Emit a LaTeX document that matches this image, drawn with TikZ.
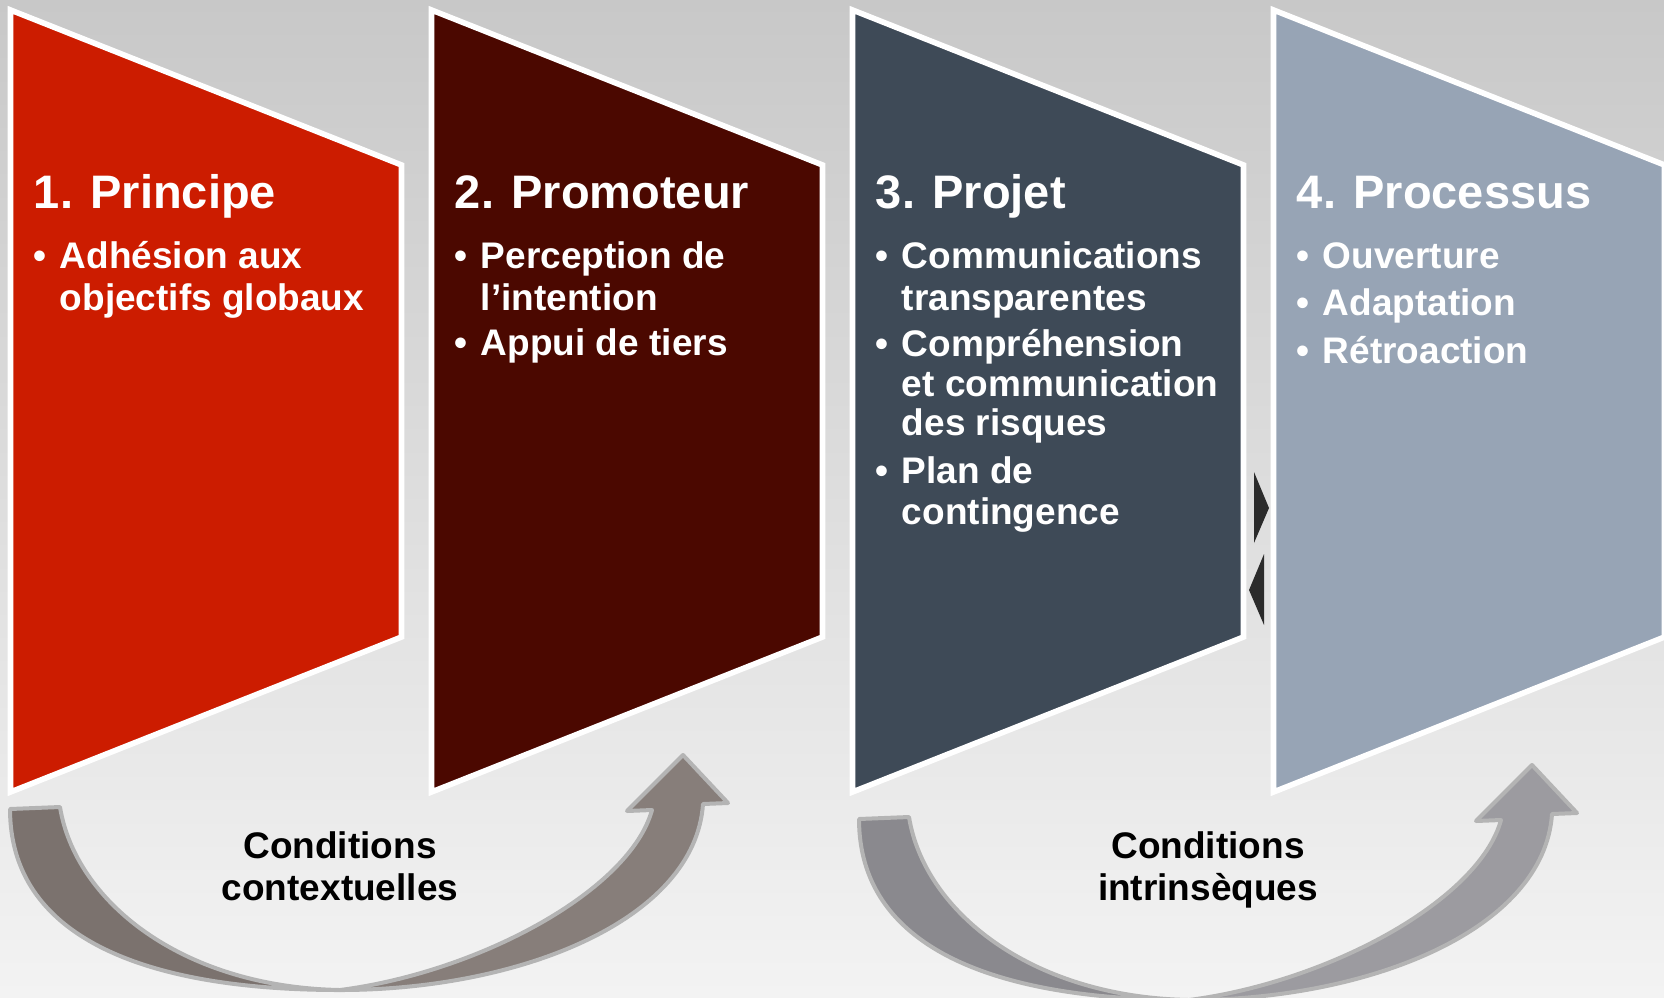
\documentclass[tikz,border=0pt]{standalone}
\usepackage{fontspec}
\setmainfont{Liberation Sans}
\definecolor{pone}{RGB}{204,28,0}
\definecolor{ptwo}{RGB}{75,8,0}
\definecolor{pthree}{RGB}{62,74,87}
\definecolor{pfour}{RGB}{151,164,181}
\definecolor{bgtop}{RGB}{200,200,200}
\definecolor{bgbot}{RGB}{243,243,243}
\definecolor{aoneL}{RGB}{123,114,110}
\definecolor{aoneR}{RGB}{135,126,122}
\definecolor{atwoL}{RGB}{138,137,142}
\definecolor{atwoR}{RGB}{156,155,160}
\definecolor{arrline}{RGB}{180,180,180}
\definecolor{trig}{RGB}{43,43,43}
\begin{document}
\begin{tikzpicture}[x=0.5pt,y=-0.5pt,
  panel/.style={draw=white,line width=2.8pt,line join=miter},
  arrowpart/.style={draw=arrline,line width=2pt,line join=round},
  ttl/.style={anchor=base west,inner sep=0pt,text=white,font=\bfseries\fontsize{23.5}{28}\selectfont},
  itm/.style={anchor=base west,inner sep=0pt,text=white,font=\bfseries\fontsize{18.5}{22}\selectfont},
  cond/.style={anchor=base,inner sep=0pt,text=black,font=\bfseries\fontsize{18.5}{22}\selectfont}]
\useasboundingbox (0,0) rectangle (1664,997);
\clip (0,0) rectangle (1664,997);
\shade[top color=bgtop,bottom color=bgbot] (0,0) rectangle (1664,997);

% curved arrows
\foreach \dx/\dy/\cl/\cr in {0/0/aoneL/aoneR, 849/10/atwoL/atwoR}{
  \begin{scope}[shift={(\dx,\dy)}]
    \path[arrowpart,fill=\cr] (340,990) .. controls (520,990) and (695,920) .. (703,804)
      -- (728,803) -- (683,755) -- (627,811) -- (652,810)
      .. controls (630,890) and (480,972) .. (340,990) -- cycle;
    \path[arrowpart,fill=\cl] (10,809) .. controls (10,935) and (140,990) .. (340,990)
      .. controls (180,987) and (75,900) .. (60,807) -- cycle;
  \end{scope}
}

% panels
\path[panel,fill=pone]   (10.5,10) -- (401.5,165) -- (401.5,637) -- (10.5,792) -- cycle;
\path[panel,fill=ptwo]   (431.5,10) -- (822.5,165) -- (822.5,637) -- (431.5,792) -- cycle;
\path[panel,fill=pthree] (852.5,10) -- (1243.5,165) -- (1243.5,637) -- (852.5,792) -- cycle;
\path[panel,fill=pfour]  (1273.5,10) -- (1664.5,165) -- (1664.5,637) -- (1273.5,792) -- cycle;

% small triangles
\fill[trig] (1254,472) -- (1269,508) -- (1254,543) -- cycle;
\fill[trig] (1264,554) -- (1249,590) -- (1264,625) -- cycle;

% panel 1
\node[ttl] (t1) at (33.5,208) {1. Principe};
\node[itm] (b1a) at (33,268) {•};
\node[itm] (p1a) at (59.5,268) {Adhésion aux};
\node[itm] (p1b) at (59.5,310) {objectifs globaux};
% panel 2
\node[ttl] (t2) at (454.5,208) {2. Promoteur};
\node[itm] (b2a) at (454,268) {•};
\node[itm] (p2a) at (480.5,268) {Perception de};
\node[itm] (p2b) at (480.5,310) {l’intention};
\node[itm] (b2b) at (454,355) {•};
\node[itm] (p2c) at (480.5,355) {Appui de tiers};
% panel 3
\node[ttl] (t3) at (875.5,208) {3. Projet};
\node[itm] (b3a) at (875,268) {•};
\node[itm] (p3a) at (901.5,268) {Communications};
\node[itm] (p3b) at (901.5,310) {transparentes};
\node[itm] (b3b) at (875,356) {•};
\node[itm] (p3c) at (901.5,356) {Compréhension};
\node[itm] (p3d) at (901.5,396) {et communication};
\node[itm] (p3e) at (901.5,435) {des risques};
\node[itm] (b3c) at (875,483) {•};
\node[itm] (p3f) at (901.5,483) {Plan de};
\node[itm] (p3g) at (901.5,524) {contingence};
% panel 4
\node[ttl] (t4) at (1296.5,208) {4. Processus};
\node[itm] (b4a) at (1296,268) {•};
\node[itm] (p4a) at (1322.5,268) {Ouverture};
\node[itm] (b4b) at (1296,315) {•};
\node[itm] (p4b) at (1322.5,315) {Adaptation};
\node[itm] (b4c) at (1296,363) {•};
\node[itm] (p4c) at (1322.5,363) {Rétroaction};

% arrow labels
\node[cond] (c1a) at (340,858) {Conditions};
\node[cond] (c1b) at (340,900) {contextuelles};
\node[cond] (c2a) at (1208,858) {Conditions};
\node[cond] (c2b) at (1208,900) {intrinsèques};
\end{tikzpicture}
\end{document}
